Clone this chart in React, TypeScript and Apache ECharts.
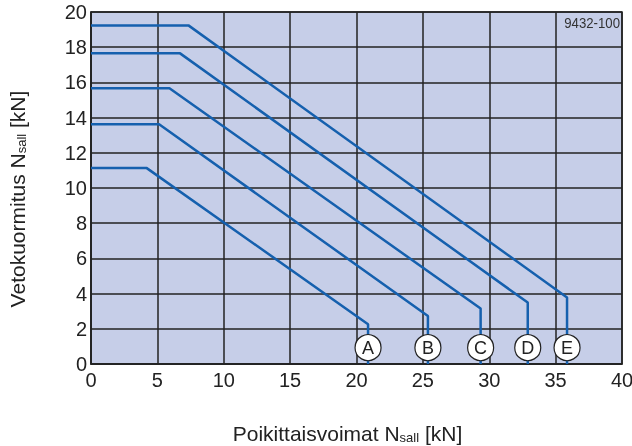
import React, { useEffect, useRef } from "react";
import * as echarts from "echarts";

const curveNames = ["A", "B", "C", "D", "E"];
// each curve: flat level, knee x, end x, end y
const flatLevels = [11.13, 13.62, 15.67, 17.65, 19.24];
const kneeX = [4.2, 5.13, 5.91, 6.71, 7.34];
const endX = [20.87, 25.38, 29.35, 32.9, 35.86];
const endY = [2.26, 2.73, 3.15, 3.49, 3.78];
const labelY = 0.93;
const xTicks = [0, 5, 10, 15, 20, 25, 30, 35, 40];
const yTicks = [0, 2, 4, 6, 8, 10, 12, 14, 16, 18, 20];
const drawingCode = "9432-100";

const LINE = "#1560ae";
const INK = "#222222";
const FONT = "'Liberation Sans', Arial, sans-serif";

export default function App() {
  const ref = useRef<HTMLDivElement>(null);
  useEffect(() => {
    if (!ref.current) return;
    const chart = echarts.init(ref.current, undefined, { renderer: "svg" });
    const lineSeries = curveNames.map((n, i) => ({
      type: "line",
      name: n,
      symbol: "none",
      lineStyle: { color: LINE, width: 2.5 },
      data: [
        [0, flatLevels[i]],
        [kneeX[i], flatLevels[i]],
        [endX[i], endY[i]],
        [endX[i], 0],
      ],
      z: 2,
    }));
    chart.setOption({
      animation: false,
      textStyle: { fontFamily: FONT },
      grid: {
        left: 91,
        top: 12,
        right: 10,
        bottom: 82,
        outerBoundsMode: "none",
        containLabel: false,
        show: true,
        backgroundColor: "#c6cee8",
        borderColor: INK,
        borderWidth: 1.5,
      },
      xAxis: {
        type: "value",
        min: xTicks[0],
        max: xTicks[xTicks.length - 1],
        interval: 5,
        axisLine: { show: true, lineStyle: { color: INK, width: 1.5 } },
        axisTick: { show: false },
        splitLine: { show: true, lineStyle: { color: INK, width: 1.5 } },
        axisLabel: { color: INK, fontSize: 20, margin: 6, fontFamily: FONT },
        name: "{a|Poikittaisvoimat N}{s|sall}{a| [kN]}",
        nameLocation: "middle",
        nameGap: 58,
        nameTextStyle: {
          padding: [0, 18, 0, 0],
          rich: {
            a: { fontSize: 21, color: INK, fontFamily: FONT },
            s: { fontSize: 13, color: INK, fontFamily: FONT, padding: [9, 0, 0, 0] },
          },
        },
      },
      yAxis: {
        type: "value",
        min: yTicks[0],
        max: yTicks[yTicks.length - 1],
        interval: 2,
        axisLine: { show: true, lineStyle: { color: INK, width: 1.5 } },
        axisTick: { show: false },
        splitLine: { show: true, lineStyle: { color: INK, width: 1.5 } },
        axisLabel: { color: INK, fontSize: 20, margin: 4, fontFamily: FONT },
        name: "{a|Vetokuormitus N}{s|sall}{a| [kN]}",
        nameLocation: "middle",
        nameRotate: 90,
        nameGap: 63,
        nameTextStyle: {
          padding: [0, 22, 0, 0],
          rich: {
            a: { fontSize: 21, color: INK, fontFamily: FONT },
            s: { fontSize: 13, color: INK, fontFamily: FONT, padding: [9, 0, 0, 0] },
          },
        },
      },
      series: [
        ...lineSeries,
        {
          type: "scatter",
          symbol: "circle",
          symbolSize: 26,
          itemStyle: { color: "#ffffff", borderColor: INK, borderWidth: 1.2, opacity: 1 },
          label: {
            show: true,
            position: "inside",
            formatter: (p: any) => p.data[2],
            color: INK,
            fontSize: 18,
            fontFamily: FONT,
          },
          data: curveNames.map((n, i) => [endX[i], labelY, n]),
          z: 5,
        },
      ],
      graphic: [
        {
          type: "text",
          x: 620,
          y: 15,
          scaleX: 0.88,
          z: 10,
          style: {
            text: drawingCode,
            fill: "#333333",
            fontSize: 15,
            textAlign: "right",
            textVerticalAlign: "top",
            fontFamily: FONT,
          },
        },
      ],
    });
    return () => chart.dispose();
  }, []);
  return <div ref={ref} style={{ position: "fixed", left: 0, top: 0, width: 632, height: 446 }} />;
}
